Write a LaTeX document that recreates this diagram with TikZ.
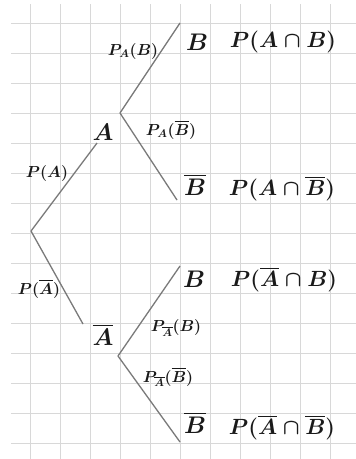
\documentclass[tikz,border=0pt]{standalone}
\usepackage{fix-cm}
\usepackage{amsmath}
\definecolor{gridc}{HTML}{D8D8D8}
\definecolor{branchc}{HTML}{7A7A7A}
\definecolor{inkc}{HTML}{1A1A1A}
\tikzset{
  gridline/.style={draw=gridc, line width=0.9pt},
  branch/.style={draw=branchc, line width=1.3pt},
  evt/.style={inner sep=0pt, text=inkc, font=\fontsize{24}{28}\selectfont\boldmath},
  prob/.style={inner sep=0pt, text=inkc, font=\fontsize{22}{26}\selectfont\boldmath},
  blabel/.style={inner sep=0pt, text=inkc, font=\fontsize{16}{19}\selectfont\boldmath},
}
\begin{document}
\begin{tikzpicture}[x=1pt, y=-1pt]
\useasboundingbox (0,0) rectangle (356,459);
\fill[white] (0,0) rectangle (356,459);
% grid paper
\foreach \gx in {30,60,...,330} \draw[gridline] (\gx,4) -- (\gx,459);
\foreach \gy in {23,53,...,443} \draw[gridline] (11,\gy) -- (356,\gy);
% tree points
\coordinate (root) at (31,231);
\coordinate (aend) at (97,143);
\coordinate (asplit) at (120,113);
\coordinate (b1end) at (180,23);
\coordinate (bb1end) at (177,200);
\coordinate (abend) at (83,324);
\coordinate (absplit) at (118,356);
\coordinate (b2end) at (180,266);
\coordinate (bb2end) at (180,442);
% branches
\draw[branch] (root) -- (aend);
\draw[branch] (asplit) -- (b1end);
\draw[branch] (asplit) -- (bb1end);
\draw[branch] (root) -- (abend);
\draw[branch] (absplit) -- (b2end);
\draw[branch] (absplit) -- (bb2end);
% events
\node[evt] (A) at (103,132) {$A$};
\node[evt] (Ab) at (103,335) {$\overline{A}$};
\node[evt] (B1) at (197,42) {$B$};
\node[evt] (Bb1) at (195,185) {$\overline{B}$};
\node[evt] (B2) at (194,279) {$B$};
\node[evt] (Bb2) at (195,423) {$\overline{B}$};
% joint probabilities
\node[prob] (pab) at (283,42) {$P(A\cap B)$};
\node[prob] (pabb) at (282,189) {$P(A\cap \overline{B})$};
\node[prob] (pabarb) at (284,280) {$P(\overline{A}\cap B)$};
\node[prob] (pabarbb) at (282,428) {$P(\overline{A}\cap \overline{B})$};
% branch labels
\node[blabel] (lpa) at (47,173) {$P(A)$};
\node[blabel] (lpab) at (39,289) {$P(\overline{A})$};
\node[blabel] (lpAB) at (133,51) {$P_A(B)$};
\node[blabel] (lpABb) at (171,130) {$P_A(\overline{B})$};
\node[blabel] (lpAbB) at (176,328) {$P_{\overline{A}}(B)$};
\node[blabel] (lpAbBb) at (168,377) {$P_{\overline{A}}(\overline{B})$};
\end{tikzpicture}
\end{document}
